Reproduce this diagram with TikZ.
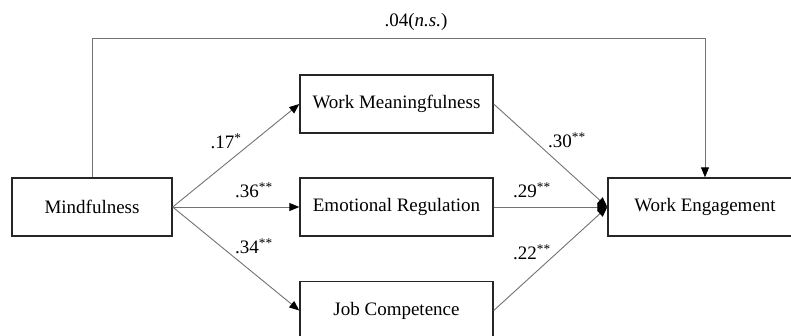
\documentclass[tikz,border=0pt]{standalone}
\usepackage{fontspec}
\setmainfont{Liberation Serif}
\usetikzlibrary{arrows.meta}
\begin{document}
\begin{tikzpicture}[x=1pt,y=-1pt,
  font=\fontsize{19}{22}\selectfont,
  varbox/.style={draw=black!85, line width=1.4pt, minimum height=58pt, inner sep=0pt},
  path/.style={draw=black!55, line width=0.9pt, -{Triangle[length=10pt,width=8pt,black]}},
  coef/.style={inner sep=1pt}]
  \useasboundingbox (0,0) rectangle (791,335);
  \clip (0,0) rectangle (791,335);
  \fill[white] (0,0) rectangle (791,335);

  % variables
  \node[varbox, minimum width=160pt] (mind) at (92,207) {Mindfulness};
  \node[varbox, minimum width=193pt] (mean) at (396.5,104) {Work Meaningfulness};
  \node[varbox, minimum width=193pt] (emo)  at (396.5,207) {Emotional Regulation};
  \node[varbox, minimum width=193pt] (comp) at (396.5,310.5) {Job Competence};
  \node[varbox, minimum width=194pt] (eng)  at (705,207) {Work Engagement};

  % direct effect
  \coordinate (topleft) at (92,38);
  \draw[path] (mind.north) -- (topleft) -| (eng.north);

  % indirect paths
  \draw[path] (mind.east) -- (mean.west);
  \draw[path] (mind.east) -- (emo.west);
  \draw[path] (mind.east) -- (comp.west);
  \draw[path] (mean.east) -- (eng.west);
  \draw[path] (emo.east)  -- (eng.west);
  \draw[path] (comp.east) -- (eng.west);

  % coefficients
  \node[coef] (c0) at (416,22) {.04(\textit{n.s.})};
  \node[coef] (c1) at (226,141) {.17\textsuperscript{*}};
  \node[coef] (c2) at (254,190) {.36\textsuperscript{**}};
  \node[coef] (c3) at (254,246) {.34\textsuperscript{**}};
  \node[coef] (c4) at (567,140) {.30\textsuperscript{**}};
  \node[coef] (c5) at (532,190) {.29\textsuperscript{**}};
  \node[coef] (c6) at (532,252) {.22\textsuperscript{**}};
\end{tikzpicture}
\end{document}
